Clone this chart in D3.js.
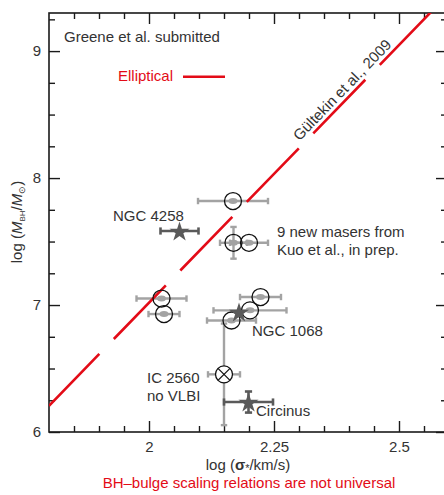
<!DOCTYPE html>
<html><head><meta charset="utf-8">
<script src="https://cdn.jsdelivr.net/npm/d3@7"></script>
<style>
body{margin:0;background:#fff}
svg{display:block;font-family:"Liberation Sans",Arial,Helvetica,sans-serif}
</style>
</head><body>
<svg id="chart" width="444" height="495"></svg>
<script>
// ---------------- data ----------------
const xMajorTicks = [2, 2.25, 2.5];
const xTickLabels = ["2", "2.25", "2.5"];
const yMajorTicks = [6, 7, 8, 9];
const yTickLabels = ["6", "7", "8", "9"];

// new masers (Kuo et al.) : log sigma, log M, errors
const maserLogSigma = [2.168, 2.169, 2.200, 2.025, 2.030, 2.223, 2.202, 2.165];
const maserLogM     = [7.819, 7.490, 7.490, 7.051, 6.929, 7.063, 6.958, 6.878];
const maserSigErr   = [0.070, 0.027, 0.038, 0.050, 0.031, 0.041, 0.073, 0.049];
const maserMErr     = [0, 0.125, 0, 0, 0, 0, 0, 0];

// known masers (stars)
const starNames    = ["NGC 4258", "NGC 1068", "Circinus"];
const starLogSigma = [2.061, 2.180, 2.199];
const starLogM     = [7.583, 6.945, 6.236];
const starSigErr   = [0.038, 0, 0.049];
const starMErr     = [0, 0, 0.083];

// IC 2560 (no VLBI)
const icLogSigma = [2.150];
const icLogM     = [6.454];
const icSigErr   = [0.032];
const icMErr     = [0.40];

// Gultekin et al. 2009 elliptical relation: logM = a + b*(logSigma - log200)
const relIntercept = [8.24];
const relSlope     = [4.06];
const relPivot     = [2.301];

// ---------------- layout ----------------
const svg = d3.select("#chart");
const L = 49, R = 447, T = 13, B = 432;
const x = d3.scaleLinear().domain([1.8, 2.596]).range([L, R]);
const y = d3.scaleLinear().domain([6, 9.3]).range([B, T]);
const txt = "#333";
const red = "#e30b17";
const errGray = "#a3a3a3";
const darkGray = "#5a5a5a";

svg.append("defs").append("clipPath").attr("id", "clip")
  .append("rect").attr("x", L).attr("y", T).attr("width", R - L).attr("height", B - T);

// ---------------- axes ----------------
const xMinor = d3.range(1.8, 2.6, 0.05).map(v => +v.toFixed(2)).filter(v => !xMajorTicks.includes(v) && v > 1.8);
const yMinor = d3.range(6, 9.3, 0.25).filter(v => !yMajorTicks.includes(v));

function styleAxis(g) {
  g.select(".domain").remove();
  g.selectAll("line").attr("stroke", "#1a1a1a").attr("stroke-width", 1.4);
  g.selectAll("text").attr("fill", txt).style("font-size", "15px").style("font-family", "inherit");
}
// bottom
svg.append("g").attr("transform", `translate(0,${B})`)
  .call(d3.axisBottom(x).tickValues(xMinor).tickSizeInner(-6).tickSizeOuter(0).tickFormat(""))
  .call(styleAxis);
svg.append("g").attr("transform", `translate(0,${B})`)
  .call(d3.axisBottom(x).tickValues(xMajorTicks).tickSizeInner(-11).tickSizeOuter(0).tickPadding(9)
        .tickFormat((d, i) => xTickLabels[i]))
  .call(styleAxis);
// top
svg.append("g").attr("transform", `translate(0,${T})`)
  .call(d3.axisTop(x).tickValues(xMinor).tickSizeInner(-6).tickSizeOuter(0).tickFormat(""))
  .call(styleAxis);
svg.append("g").attr("transform", `translate(0,${T})`)
  .call(d3.axisTop(x).tickValues(xMajorTicks).tickSizeInner(-11).tickSizeOuter(0).tickFormat(""))
  .call(styleAxis);
// left
svg.append("g").attr("transform", `translate(${L},0)`)
  .call(d3.axisLeft(y).tickValues(yMinor).tickSizeInner(-6).tickSizeOuter(0).tickFormat(""))
  .call(styleAxis);
svg.append("g").attr("transform", `translate(${L},0)`)
  .call(d3.axisLeft(y).tickValues(yMajorTicks).tickSizeInner(-11).tickSizeOuter(0).tickPadding(8)
        .tickFormat((d, i) => yTickLabels[i]))
  .call(styleAxis);
// right
svg.append("g").attr("transform", `translate(${R},0)`)
  .call(d3.axisRight(y).tickValues(yMinor).tickSizeInner(-6).tickSizeOuter(0).tickFormat(""))
  .call(styleAxis);
svg.append("g").attr("transform", `translate(${R},0)`)
  .call(d3.axisRight(y).tickValues(yMajorTicks).tickSizeInner(-11).tickSizeOuter(0).tickFormat(""))
  .call(styleAxis);
// frame
svg.append("rect").attr("x", L).attr("y", T).attr("width", R - L).attr("height", B - T)
  .attr("fill", "none").attr("stroke", "#1a1a1a").attr("stroke-width", 1.6);

// ---------------- error bars ----------------
const gErr = svg.append("g");
function errBar(cx, cy, ex, ey, color, w, cap) {
  if (ex > 0) {
    gErr.append("line").attr("x1", x(cx - ex)).attr("x2", x(cx + ex)).attr("y1", y(cy)).attr("y2", y(cy))
      .attr("stroke", color).attr("stroke-width", w);
    [cx - ex, cx + ex].forEach(v => gErr.append("line")
      .attr("x1", x(v)).attr("x2", x(v)).attr("y1", y(cy) - cap).attr("y2", y(cy) + cap)
      .attr("stroke", color).attr("stroke-width", w));
  }
  if (ey > 0) {
    gErr.append("line").attr("x1", x(cx)).attr("x2", x(cx)).attr("y1", y(cy - ey)).attr("y2", y(cy + ey))
      .attr("stroke", color).attr("stroke-width", w);
    [cy - ey, cy + ey].forEach(v => gErr.append("line")
      .attr("x1", x(cx) - cap).attr("x2", x(cx) + cap).attr("y1", y(v)).attr("y2", y(v))
      .attr("stroke", color).attr("stroke-width", w));
  }
}
maserLogSigma.forEach((s, i) => errBar(s, maserLogM[i], maserSigErr[i], maserMErr[i], errGray, 2.4, 3.2));
icLogSigma.forEach((s, i) => errBar(s, icLogM[i], icSigErr[i], icMErr[i], errGray, 2.4, 3.2));
starLogSigma.forEach((s, i) => errBar(s, starLogM[i], starSigErr[i], starMErr[i], darkGray, 2.6, 3.6));

// ---------------- relation line ----------------
const relX = [1.8, 2.6];
const line = d3.line().x(d => x(d)).y(d => y(relIntercept[0] + relSlope[0] * (d - relPivot[0])));
svg.append("path").attr("clip-path", "url(#clip)")
  .attr("d", line(relX))
  .attr("fill", "none").attr("stroke", red).attr("stroke-width", 2.6)
  .attr("stroke-dasharray", "74.7,20.8").attr("stroke-dashoffset", 2.4);

// relation label
{
  const s0 = 2.400;
  const px = x(s0), py = y(relIntercept[0] + relSlope[0] * (s0 - relPivot[0]));
  const ang = Math.atan2(y(9) - y(8), x(8 / relSlope[0] + 1) - x(7 / relSlope[0] + 1)) * 180 / Math.PI;
  svg.append("text").attr("transform", `translate(${px},${py}) rotate(${ang})`)
    .attr("dy", -4.4).attr("text-anchor", "middle").attr("fill", txt)
    .style("font-size", "15px").text("Gültekin et al., 2009");
}

// ---------------- markers ----------------
const gM = svg.append("g");
maserLogSigma.forEach((s, i) => {
  gM.append("ellipse").attr("cx", x(s)).attr("cy", y(maserLogM[i])).attr("rx", 4.5).attr("ry", 3)
    .attr("fill", errGray);
});
maserLogSigma.forEach((s, i) => {
  gM.append("circle").attr("cx", x(s)).attr("cy", y(maserLogM[i])).attr("r", 8.5)
    .attr("fill", "none").attr("stroke", "#111").attr("stroke-width", 1.3);
});
icLogSigma.forEach((s, i) => {
  const cx = x(s), cy = y(icLogM[i]);
  gM.append("circle").attr("cx", cx).attr("cy", cy).attr("r", 8.5)
    .attr("fill", "#fff").attr("stroke", "#111").attr("stroke-width", 1.3);
  const k = 8.5 * Math.SQRT1_2;
  gM.append("line").attr("x1", cx - k).attr("y1", cy - k).attr("x2", cx + k).attr("y2", cy + k)
    .attr("stroke", "#111").attr("stroke-width", 1.3);
  gM.append("line").attr("x1", cx - k).attr("y1", cy + k).attr("x2", cx + k).attr("y2", cy - k)
    .attr("stroke", "#111").attr("stroke-width", 1.3);
});
const star = d3.symbol(d3.symbolStar, 125);
starLogSigma.forEach((s, i) => {
  gM.append("path").attr("d", star()).attr("transform", `translate(${x(s)},${y(starLogM[i]) + 1})`)
    .attr("fill", darkGray);
});

// ---------------- annotations ----------------
const ann = svg.append("g").attr("fill", txt).style("font-size", "15px");
ann.append("text").attr("x", 64).attr("y", 42).text("Greene et al. submitted");
ann.append("text").attr("x", 113).attr("y", 221).text(starNames[0]);
ann.append("text").attr("x", 252).attr("y", 336).text(starNames[1]);
ann.append("text").attr("x", 256).attr("y", 416).text(starNames[2]);
ann.append("text").attr("x", 277).attr("y", 237).text("9 new masers from");
ann.append("text").attr("x", 277).attr("y", 255).text("Kuo et al., in prep.");
ann.append("text").attr("x", 147).attr("y", 383).text("IC 2560");
ann.append("text").attr("x", 147).attr("y", 401).text("no VLBI");

// legend
svg.append("text").attr("x", 173).attr("y", 81).attr("text-anchor", "end").attr("fill", red)
  .style("font-size", "15px").text("Elliptical");
svg.append("line").attr("x1", 183).attr("x2", 225).attr("y1", 76.7).attr("y2", 76.7)
  .attr("stroke", red).attr("stroke-width", 2.6);

// axis titles
const xt = svg.append("text").attr("x", 248).attr("y", 470).attr("text-anchor", "middle")
  .attr("fill", txt).style("font-size", "15px");
xt.append("tspan").text("log (");
xt.append("tspan").attr("font-weight", "bold").text("σ");
xt.append("tspan").attr("dy", 2).style("font-size", "11px").text("*");
xt.append("tspan").attr("dy", -2).text("/km/s)");

const yt = svg.append("text").attr("transform", "translate(22,222) rotate(-90)")
  .attr("text-anchor", "middle").attr("fill", txt).style("font-size", "15px");
yt.append("tspan").text("log (");
yt.append("tspan").attr("font-style", "italic").text("M");
yt.append("tspan").attr("dy", 3).style("font-size", "8px").text("BH");
yt.append("tspan").attr("dy", -3).text("/");
yt.append("tspan").attr("font-style", "italic").text("M");
yt.append("tspan").attr("dy", 3).style("font-size", "9px").text("⊙");
yt.append("tspan").attr("dy", -3).text(")");

svg.append("text").attr("x", 249).attr("y", 488).attr("text-anchor", "middle").attr("fill", red)
  .style("font-size", "15px").text("BH–bulge scaling relations are not universal");
</script>
</body></html>
